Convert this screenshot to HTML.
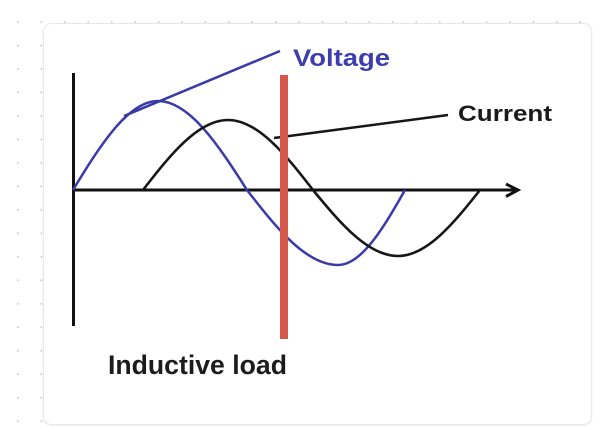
<!DOCTYPE html>
<html>
<head>
<meta charset="utf-8">
<style>
  html, body { margin: 0; padding: 0; background: #ffffff; }
  body { width: 602px; height: 427px; overflow: hidden; }
  svg { display: block; }
  text { font-family: "Liberation Sans", Arial, sans-serif; font-weight: bold; }
</style>
</head>
<body>
<svg width="602" height="427" viewBox="0 0 602 427" xmlns="http://www.w3.org/2000/svg">
  <defs>
    <pattern id="dots" patternUnits="userSpaceOnUse" x="6.3" y="10.3" width="23.43" height="23.48">
      <circle cx="11.7" cy="11.7" r="0.95" fill="#c9c9c9"/>
    </pattern>
    <filter id="sh" x="-5%" y="-5%" width="110%" height="110%">
      <feDropShadow dx="0" dy="1" stdDeviation="1" flood-color="#000" flood-opacity="0.06"/>
    </filter>
  </defs>

  <rect x="0" y="0" width="602" height="427" fill="#ffffff"/>
  <rect x="0" y="0" width="602" height="427" fill="url(#dots)"/>

  <!-- card -->
  <rect x="43.5" y="23.5" width="548" height="401" rx="8" ry="8" fill="#ffffff" stroke="#e8e8e8" stroke-width="1" filter="url(#sh)"/>

  <!-- axes -->
  <line x1="73.5" y1="73" x2="73.5" y2="326" stroke="#111" stroke-width="3"/>
  <line x1="72" y1="190" x2="517" y2="190" stroke="#111" stroke-width="3"/>
  <polyline points="506,184 518,190 506,196.5" fill="none" stroke="#111" stroke-width="3" stroke-linejoin="miter"/>

  <!-- voltage curve (blue) -->
  <path d="M73,190 C100.7,144.4 128.3,101 158,101 C189.2,101 218,144.4 247,190 C276.7,228.4 306.2,265 338,265 C361.5,265 383.2,228.4 405,190"
        fill="none" stroke="#3a3aa8" stroke-width="2.5"/>

  <!-- current curve (black) -->
  <path d="M143,190 C170.7,154.2 198.3,120 228,120 C257.7,120 285.3,154.2 313,190 C340.7,223.8 368.3,256 398,256 C426.7,256 453.3,223.8 480,190"
        fill="none" stroke="#161616" stroke-width="2.6"/>

  <!-- leaders -->
  <line x1="124" y1="116" x2="280" y2="51" stroke="#3a3aa8" stroke-width="2.5"/>
  <line x1="274" y1="138" x2="448" y2="115" stroke="#161616" stroke-width="2.5"/>

  <!-- red marker -->
  <rect x="280" y="75" width="8" height="264" fill="#d4574a"/>

  <!-- labels -->
  <text x="293" y="66" font-size="24" fill="#3d3db0" textLength="97" lengthAdjust="spacingAndGlyphs">Voltage</text>
  <text x="458" y="121" font-size="22.5" fill="#1a1a1a" textLength="94" lengthAdjust="spacingAndGlyphs">Current</text>
  <text x="108" y="374" font-size="27" fill="#1c1c1c" textLength="179" lengthAdjust="spacingAndGlyphs">Inductive load</text>
</svg>
</body>
</html>
